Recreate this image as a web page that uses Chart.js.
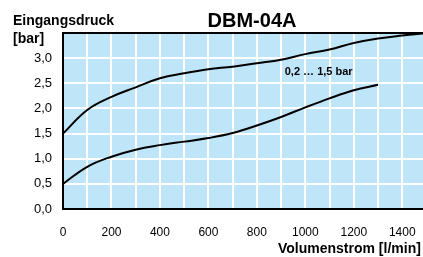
<!DOCTYPE html>
<html>
<head>
<meta charset="utf-8">
<script src="https://cdn.jsdelivr.net/npm/chart.js@4/dist/chart.umd.min.js"></script>
<style>
  html, body { margin: 0; padding: 0; background: #fff; overflow: hidden; }
  #wrap { width: 423px; height: 257px; overflow: hidden; }
</style>
</head>
<body>
<div id="wrap"><canvas id="myChart" width="500" height="257"></canvas></div>
<script>
// Volumenstrom [l/min] vs Eingangsdruck [bar]
var flowUpper = [0, 100, 200, 300, 400, 500, 600, 700, 800, 900, 1000, 1100, 1200, 1300, 1400, 1500];
var pressUpper = [1.5, 1.97, 2.23, 2.42, 2.6, 2.7, 2.78, 2.83, 2.9, 2.97, 3.08, 3.17, 3.3, 3.39, 3.45, 3.5];
var flowLower = [0, 100, 200, 300, 400, 500, 600, 700, 800, 900, 1000, 1100, 1200, 1300];
var pressLower = [0.5, 0.84, 1.04, 1.18, 1.27, 1.34, 1.41, 1.51, 1.66, 1.83, 2.02, 2.2, 2.36, 2.47];
var xTicks = [0, 200, 400, 600, 800, 1000, 1200, 1400];
var yTicks = [0, 0.5, 1, 1.5, 2, 2.5, 3];
var rangeLabel = "0,2 \u2026 1,5 bar";
var rangeLabelAt = [915, 2.72];

function toPoints(xs, ys) {
    let pts = [];
    for (let i in xs) {
        pts.push({x: xs[i], y: ys[i]});
    }
    return pts;
}

const fontName = "'Liberation Sans', Arial, sans-serif";

const decoPlugin = {
    id: 'deco',
    beforeDraw(chart) {
        const a = chart.chartArea;
        const c = chart.ctx;
        c.save();
        c.fillStyle = '#bfe5f9';
        c.fillRect(a.left, a.top, a.right - a.left, a.bottom - a.top);
        c.restore();
    },
    afterDraw(chart) {
        const a = chart.chartArea;
        const c = chart.ctx;
        const xs = chart.scales.x, ys = chart.scales.y;
        c.save();
        c.strokeStyle = '#000';
        c.lineWidth = 2;
        c.strokeRect(a.left, a.top, a.right - a.left, a.bottom - a.top);
        c.fillStyle = '#000';
        c.textBaseline = 'alphabetic';
        c.textAlign = 'center';
        c.font = 'bold 20px ' + fontName;
        c.fillText('DBM-04A', 252, 27);
        c.textAlign = 'left';
        c.font = 'bold 14px ' + fontName;
        c.fillText('Eingangsdruck', 13, 25);
        c.fillText('[bar]', 13, 43);
        c.fillText('Volumenstrom [l/min]', 278, 253);
        c.font = 'bold 11px ' + fontName;
        c.textBaseline = 'middle';
        c.fillText(rangeLabel, xs.getPixelForValue(rangeLabelAt[0]), ys.getPixelForValue(rangeLabelAt[1]));
        c.restore();
    }
};

const ctx = document.getElementById('myChart');
new Chart(ctx, {
    type: 'scatter',
    data: {
        datasets: [{
            data: toPoints(flowUpper, pressUpper),
            showLine: true,
            borderColor: '#000',
            borderWidth: 2,
            pointRadius: 0,
            tension: 0.4
        }, {
            data: toPoints(flowLower, pressLower),
            showLine: true,
            borderColor: '#000',
            borderWidth: 2,
            pointRadius: 0,
            tension: 0.4
        }]
    },
    options: {
        responsive: false,
        animation: false,
        events: [],
        layout: { padding: { left: 0, top: 33, right: 73.5, bottom: 0 } },
        plugins: { legend: { display: false }, tooltip: { enabled: false } },
        scales: {
            x: {
                type: 'linear',
                min: 0,
                max: 1500,
                afterFit: function (s) { s.height = 48; },
                grid: { color: '#fff', lineWidth: 2, drawTicks: false },
                border: { color: '#000', width: 2 },
                ticks: {
                    stepSize: 100,
                    padding: 16,
                    color: '#000',
                    maxRotation: 0,
                    autoSkip: false,
                    font: { family: fontName, size: 12 },
                    callback: function (v) { return xTicks.includes(v) ? String(v) : ''; }
                }
            },
            y: {
                min: 0,
                max: 3.5,
                afterFit: function (s) { s.width = 63; },
                grid: { color: '#fff', lineWidth: 2, drawTicks: false },
                border: { color: '#000', width: 2 },
                ticks: {
                    stepSize: 0.5,
                    padding: 11,
                    color: '#000',
                    font: { family: fontName, size: 13 },
                    callback: function (v) { return yTicks.includes(v) ? v.toFixed(1).replace('.', ',') : ''; }
                }
            }
        }
    },
    plugins: [decoPlugin]
});
</script>
</body>
</html>
